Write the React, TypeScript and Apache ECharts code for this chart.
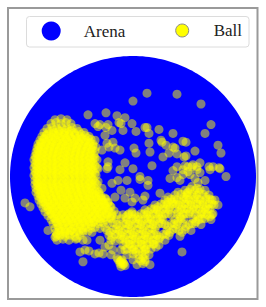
import React, { useEffect, useRef } from "react";
import * as echarts from "echarts";

// Arena radius (same units as positions)
const arenaRadius = 123;
const seriesNames = ["Arena", "Ball"];

// Ball positions: dense western cluster
const ballWestCluster: number[][] = [
  [-78,58],[-72,59],[-66,58],
  [-82,54],[-77,55],[-72,54],[-67,55],[-62,54],
  [-86,49],[-81,50],[-76,49],[-71,50],[-66,49],[-61,50],[-56,49],
  [-89,45],[-84,46],[-79,45],[-74,46],[-69,45],[-64,46],[-59,45],[-54,46],[-49,45],
  [-91,41],[-87,42],[-82,41],[-77,42],[-72,41],[-68,42],[-63,41],[-58,42],[-53,41],[-48,42],[-44,41],
  [-93,37],[-89,38],[-84,37],[-80,38],[-75,37],[-70,38],[-66,37],[-61,38],[-56,37],[-52,38],[-47,37],[-42,38],[-38,37],
  [-95,33],[-91,34],[-86,33],[-82,34],[-77,33],[-72,34],[-68,33],[-63,34],[-58,33],[-54,34],[-49,33],[-44,34],[-40,33],
  [-96,29],[-92,30],[-88,29],[-83,30],[-79,29],[-74,30],[-70,29],[-65,30],[-60,29],[-56,30],[-51,29],[-46,30],[-42,29],[-37,30],
  [-97,25],[-93,26],[-89,25],[-84,26],[-80,25],[-75,26],[-71,25],[-66,26],[-62,25],[-57,26],[-52,25],[-48,26],[-43,25],[-38,26],
  [-98,21],[-94,22],[-89,21],[-85,22],[-81,21],[-76,22],[-72,21],[-67,22],[-63,21],[-58,22],[-53,21],[-49,22],[-44,21],[-39,22],
  [-99,17],[-95,18],[-90,17],[-86,18],[-81,17],[-77,18],[-72,17],[-68,18],[-63,17],[-59,18],[-54,17],[-50,18],[-45,17],[-40,18],[-36,17],
  [-98,13],[-94,14],[-89,13],[-85,14],[-80,13],[-76,14],[-71,13],[-67,14],[-62,13],[-58,14],[-53,13],[-49,14],[-44,13],[-40,14],
  [-99,9],[-95,10],[-90,9],[-86,10],[-81,9],[-77,10],[-72,9],[-68,10],[-63,9],[-59,10],[-54,9],[-50,10],[-45,9],[-41,10],[-36,9],
  [-98,5],[-94,6],[-89,5],[-85,6],[-80,5],[-76,6],[-71,5],[-67,6],[-62,5],[-58,6],[-53,5],[-49,6],[-44,5],[-40,6],
  [-99,1],[-95,2],[-90,1],[-86,2],[-81,1],[-77,2],[-72,1],[-68,2],[-63,1],[-59,2],[-54,1],[-50,2],[-45,1],[-41,2],[-37,1],
  [-98,-4],[-94,-3],[-89,-4],[-85,-3],[-80,-4],[-76,-3],[-71,-4],[-67,-3],[-62,-4],[-58,-3],[-53,-4],[-49,-3],[-44,-4],[-40,-3],
  [-98,-8],[-95,-7],[-90,-8],[-86,-7],[-81,-8],[-77,-7],[-72,-8],[-68,-7],[-63,-8],[-59,-7],[-54,-8],[-50,-7],[-45,-8],[-41,-7],[-36,-8],
  [-97,-12],[-93,-11],[-89,-12],[-84,-11],[-80,-12],[-75,-11],[-71,-12],[-66,-11],[-62,-12],[-57,-11],[-53,-12],[-48,-11],[-44,-12],[-39,-11],
  [-97,-16],[-92,-15],[-88,-16],[-83,-15],[-79,-16],[-74,-15],[-70,-16],[-65,-15],[-61,-16],[-56,-15],[-52,-16],[-47,-15],[-43,-16],[-38,-15],[-34,-16],
  [-95,-20],[-91,-19],[-86,-20],[-82,-19],[-77,-20],[-73,-19],[-68,-20],[-64,-19],[-59,-20],[-55,-19],[-50,-20],[-46,-19],[-41,-20],[-37,-19],[-32,-20],
  [-94,-24],[-90,-23],[-85,-24],[-81,-23],[-76,-24],[-72,-23],[-67,-24],[-63,-23],[-58,-24],[-54,-23],[-49,-24],[-45,-23],[-40,-24],[-36,-23],[-31,-24],[-27,-23],
  [-92,-28],[-88,-27],[-83,-28],[-79,-27],[-74,-28],[-70,-27],[-65,-28],[-61,-27],[-56,-28],[-52,-27],[-47,-28],[-43,-27],[-38,-28],[-34,-27],[-29,-28],[-25,-27],
  [-90,-32],[-85,-31],[-81,-32],[-76,-31],[-72,-32],[-67,-31],[-63,-32],[-58,-31],[-54,-32],[-49,-31],[-45,-32],[-40,-31],[-36,-32],[-31,-31],[-27,-32],[-22,-31],
  [-88,-36],[-83,-35],[-79,-36],[-74,-35],[-70,-36],[-65,-35],[-61,-36],[-56,-35],[-52,-36],[-47,-35],[-43,-36],[-38,-35],[-34,-36],[-29,-35],[-24,-36],[-19,-35],
  [-85,-40],[-81,-39],[-76,-40],[-72,-39],[-67,-40],[-63,-39],[-58,-40],[-54,-39],[-49,-40],[-45,-39],[-40,-40],[-36,-39],[-31,-40],[-26,-39],[-21,-40],[-16,-39],
  [-82,-44],[-78,-43],[-73,-44],[-69,-43],[-64,-44],[-60,-43],[-55,-44],[-51,-43],[-46,-44],[-42,-43],[-37,-44],[-32,-43],[-27,-44],[-22,-43],[-17,-44],[-12,-43],
  [-80,-48],[-76,-47],[-71,-48],[-67,-47],[-62,-48],[-58,-47],[-53,-48],[-49,-47],[-44,-48],[-40,-47],[-35,-48],[-30,-47],[-25,-48],[-20,-47],
  [-78,-53],[-74,-52],[-69,-53],[-65,-52],[-60,-53],[-56,-52],[-51,-53],[-47,-52],[-42,-53],[-38,-52],[-33,-53],[-28,-52],
  [-77,-57],[-72,-56],[-68,-57],[-63,-56],[-59,-57],[-54,-56],[-50,-57],[-45,-56],[-41,-57],
  [-77,-61],[-73,-60],[-68,-61],[-63,-60],[-58,-61],[-53,-60],[-78,-62],
  [-76,-65],[-70,-64],[-64,-65],[-57,-64],[-50,-65],
];

// Ball positions: repeated visits in the core of the western cluster
const ballWestCore: number[][] = [
  [-80,47],[-74,47],[-68,47],[-62,47],
  [-86,43],[-80,43],[-75,43],[-69,43],[-64,43],[-58,43],[-52,43],
  [-89,39],[-84,39],[-78,39],[-73,39],[-67,39],[-62,39],[-56,39],[-51,39],[-45,39],
  [-92,35],[-87,35],[-81,35],[-76,35],[-70,35],[-65,35],[-59,35],[-54,35],[-48,35],[-43,35],
  [-94,31],[-89,31],[-83,31],[-78,31],[-72,31],[-67,31],[-61,31],[-56,31],[-50,31],[-45,31],[-40,31],
  [-95,27],[-90,27],[-85,27],[-79,27],[-74,27],[-68,27],[-63,27],[-57,27],[-52,27],[-46,27],[-41,27],
  [-96,23],[-91,23],[-86,23],[-80,23],[-75,23],[-69,23],[-64,23],[-58,23],[-53,23],[-47,23],[-42,23],
  [-97,19],[-92,19],[-87,19],[-81,19],[-76,19],[-70,19],[-65,19],[-59,19],[-54,19],[-48,19],[-43,19],[-38,19],
  [-96,15],[-91,15],[-86,15],[-80,15],[-75,15],[-69,15],[-64,15],[-58,15],[-53,15],[-47,15],[-42,15],
  [-97,11],[-92,11],[-87,11],[-81,11],[-76,11],[-70,11],[-65,11],[-59,11],[-54,11],[-48,11],[-43,11],[-38,11],
  [-96,7],[-91,7],[-86,7],[-80,7],[-75,7],[-69,7],[-64,7],[-58,7],[-53,7],[-47,7],[-42,7],
  [-97,3],[-92,3],[-87,3],[-81,3],[-76,3],[-70,3],[-65,3],[-59,3],[-54,3],[-48,3],[-43,3],[-38,3],
  [-96,-1],[-91,-1],[-86,-1],[-80,-1],[-75,-1],[-69,-1],[-64,-1],[-58,-1],[-53,-1],[-47,-1],[-42,-1],
  [-96,-6],[-92,-6],[-87,-6],[-81,-6],[-76,-6],[-70,-6],[-65,-6],[-59,-6],[-54,-6],[-48,-6],[-43,-6],[-38,-6],
  [-95,-10],[-91,-10],[-86,-10],[-80,-10],[-75,-10],[-69,-10],[-64,-10],[-58,-10],[-53,-10],[-47,-10],[-42,-10],
  [-95,-14],[-90,-14],[-85,-14],[-79,-14],[-74,-14],[-68,-14],[-63,-14],[-57,-14],[-52,-14],[-46,-14],[-41,-14],[-36,-14],
  [-93,-18],[-88,-18],[-83,-18],[-77,-18],[-72,-18],[-66,-18],[-61,-18],[-55,-18],[-50,-18],[-44,-18],[-39,-18],[-34,-18],
  [-92,-22],[-87,-22],[-81,-22],[-76,-22],[-70,-22],[-65,-22],[-59,-22],[-54,-22],[-48,-22],[-43,-22],[-37,-22],[-32,-22],[-28,-22],
  [-90,-26],[-85,-26],[-79,-26],[-74,-26],[-68,-26],[-63,-26],[-57,-26],[-52,-26],[-46,-26],[-41,-26],[-35,-26],[-30,-26],[-25,-26],
  [-87,-30],[-82,-30],[-77,-30],[-71,-30],[-66,-30],[-60,-30],[-55,-30],[-49,-30],[-44,-30],[-38,-30],[-33,-30],[-28,-30],[-23,-30],
  [-85,-34],[-80,-34],[-74,-34],[-69,-34],[-63,-34],[-58,-34],[-52,-34],[-47,-34],[-41,-34],[-36,-34],[-30,-34],[-25,-34],
  [-82,-38],[-77,-38],[-71,-38],[-66,-38],[-60,-38],[-55,-38],[-49,-38],[-44,-38],[-38,-38],[-33,-38],[-27,-38],[-21,-38],
  [-79,-42],[-74,-42],[-68,-42],[-63,-42],[-57,-42],[-52,-42],[-46,-42],[-41,-42],[-35,-42],[-29,-42],[-23,-42],
  [-77,-46],[-72,-46],[-66,-46],[-61,-46],[-55,-46],[-50,-46],[-44,-46],[-39,-46],[-33,-46],
  [-75,-50],[-70,-50],[-64,-50],[-59,-50],[-53,-50],[-48,-50],[-42,-50],
  [-74,-55],[-68,-55],[-62,-55],[-56,-55],[-50,-55],
  [-76,-59],[-70,-59],[-64,-59],
];

// Ball positions: southern band rising towards the east
const ballSouthBand: number[][] = [
  [52,-14],[57,-13],[62,-14],[67,-13],[72,-14],
  [42,-19],[48,-18],[54,-19],[59,-18],[64,-19],[70,-18],[76,-19],
  [32,-24],[38,-23],[44,-24],[50,-23],[56,-24],[61,-23],[67,-24],[73,-23],[79,-24],
  [22,-29],[28,-28],[34,-29],[40,-28],[46,-29],[52,-28],[58,-29],[64,-28],[70,-29],[76,-28],[81,-29],
  [12,-34],[18,-33],[24,-34],[30,-33],[36,-34],[42,-33],[48,-34],[54,-33],[60,-34],[66,-33],[72,-34],[77,-33],
  [-10,-39],[-4,-38],[2,-39],[8,-38],[14,-39],[20,-38],[26,-39],[32,-38],[38,-39],[44,-38],[50,-39],[56,-38],[62,-39],[68,-38],[74,-39],[80,-38],
  [-6,-44],[0,-43],[6,-44],[12,-43],[18,-44],[24,-43],[30,-44],[42,-44],[48,-43],[60,-43],[66,-44],[72,-43],[78,-44],
  [-16,-49],[-10,-48],[-4,-49],[2,-48],[8,-49],[14,-48],[20,-49],[26,-48],[32,-49],[38,-48],[44,-49],[50,-48],[56,-49],[62,-48],[68,-49],
  [-26,-55],[-20,-54],[-14,-55],[-8,-54],[-2,-55],[4,-54],[10,-55],[16,-54],[22,-55],[34,-55],[40,-54],[46,-55],[52,-54],[58,-55],
  [-24,-60],[-18,-59],[-12,-60],[-6,-59],[0,-60],[6,-59],[12,-60],[18,-59],[24,-60],[30,-59],[36,-60],
  [-22,-65],[-10,-64],[-4,-65],[2,-64],[8,-65],[14,-64],[20,-65],[26,-64],[32,-65],
  [-10,-70],[-4,-69],[2,-70],[8,-69],[14,-70],[20,-69],[26,-70],
  [-12,-75],[-6,-74],[0,-75],[6,-74],[12,-75],[18,-74],
  [-6,-80],[0,-79],[6,-80],[12,-79],[16,-80],
  [0,-85],[6,-84],[12,-85],[10,-83],[8,-86],[12,-87],
  [4,-90],[10,-89],
  [-15,-85],[-11,-85],[-13,-89],[-9,-89],[-12,-92],[-8,-91],[-13,-87],[-10,-88],
  [-48,-75],[-44,-76],[-38,-79],[-34,-78],[-30,-79],
  [51,-21],[62,-21],[73,-21],
  [35,-26],[47,-26],[58,-26],[70,-26],
  [25,-31],[37,-31],[49,-31],[61,-31],[73,-31],
  [15,-36],[27,-36],[45,-36],[57,-36],[69,-36],
  [-7,-41],[5,-41],[17,-41],[29,-41],[47,-41],[65,-41],[77,-41],
  [-3,-46],[9,-46],[21,-46],[45,-46],[63,-46],
  [-13,-51],[-1,-51],[11,-51],[23,-51],[35,-51],[53,-51],
  [-23,-57],[-11,-57],[1,-57],[13,-57],[37,-57],[49,-57],
  [-21,-62],[-9,-62],[3,-62],[15,-62],[27,-62],
  [-7,-67],[5,-67],[17,-67],
  [-1,-72],[11,-72],[23,-72],
  [3,-77],[9,-77],
  [55,-16],[66,-16],
  [41,-23],[53,-23],[65,-23],[77,-23],
  [31,-28],[43,-28],[55,-28],[67,-28],[79,-28],
  [21,-33],[33,-33],[51,-33],[63,-33],[75,-33],
  [-1,-38],[11,-38],[23,-38],[35,-38],[53,-38],[71,-38],
  [3,-43],[15,-43],[27,-43],[51,-43],[69,-43],
  [-7,-48],[5,-48],[17,-48],[29,-48],[41,-48],[59,-48],
  [-17,-53],[-5,-53],[7,-53],[19,-53],[43,-53],
  [-15,-59],[-3,-59],[9,-59],[21,-59],[33,-59],
  [-13,-64],[-1,-64],[11,-64],[23,-64],
  [-3,-69],[9,-69],[21,-69],
  [1,-74],[13,-74],
  [-12,-86],[-10,-90],
  [-24,-70],[-20,-75],[-28,-72],[-22,-80],[-18,-66],
];

// Ball positions: scattered samples across the arena
const ballScattered: number[][] = [
  [14,85],[44,84],[0,77],[68,74],[-1,54],[3,46],[16,44],[26,48],[40,44],[78,53],[72,44],
  [16,34],[33,32],[40,30],[1,29],[3,24],[17,25],[42,29],[36,24],[44,23],[30,20],[62,26],[85,32],[88,24],
  [50,36],[53,35],[28,37],[29,35],[12,50],[14,50],[51,20],[53,21],
  [37,-2],[44,-1],[47,-4],[40,6],[50,7],[59,10],[64,7],[67,4],[57,2],[77,7],[87,8],[93,0],
  [65,-6],[59,-10],[64,-12],[52,11],[55,10],[60,12],[67,14],[64,10],[76,10],[80,10],[86,9],
  [44,10],[19,11],[55,5],[62,-2],[72,-4],[50,2],
  [-45,63],[-27,65],[-16,62],[-8,60],[-14,55],[-12,54],[-10,47],[-25,53],[-33,53],[-35,51],[-38,54],
  [-21,47],[-28,42],[-27,50],[-26,34],[-20,35],[-24,30],[-18,29],[-13,27],[-8,14],[-25,15],[-25,10],[0,8],[-31,27],
  [7,-3],[15,-9],[12,-20],[2,-22],[10,-24],[27,-17],[35,-21],[39,-26],[45,-16],[54,-17],
  [85,-29],[82,-24],[79,-39],[47,-61],[49,-77],[17,-90],
  [-26,8],[-15,-4],[-6,-4],[-21,-7],[-12,-14],[-3,-16],[-18,-21],[-8,-22],[-1,-26],
  [-35,8],[-35,-5],[-31,-12],[-13,7],[7,0],[15,-4],
  [-108,-27],[-103,-31],[-85,-55],[-53,-77],[-50,-87],[-33,-65],[-16,-83],[-8,-75],
  [-56,-63],[-46,-65],[-5,-39],[-1,-36],
];

const FONT = "'Liberation Serif', 'Times New Roman', serif";

export default function App() {
  const ref = useRef<HTMLDivElement>(null);

  useEffect(() => {
    if (!ref.current) return;
    const chart = echarts.init(ref.current, undefined, { renderer: "svg" });
    const ballData = [...ballWestCluster, ...ballWestCore, ...ballSouthBand, ...ballScattered];

    chart.setOption({
      animation: false,
      backgroundColor: "#ffffff",
      grid: { left: 10, top: 56, width: 246, height: 241, containLabel: false },
      xAxis: { type: "value", min: -arenaRadius, max: arenaRadius, show: false },
      yAxis: { type: "value", min: -arenaRadius, max: arenaRadius, show: false },
      graphic: [
        {
          type: "rect",
          z: 0,
          shape: { x: 8, y: 8, width: 249.5, height: 291 },
          style: { fill: "none", stroke: "#9a9a9a", lineWidth: 2 },
          silent: true,
        },
        {
          type: "rect",
          z: 0,
          shape: { x: 26.5, y: 16.5, width: 222.5, height: 30.5, r: 3 },
          style: { fill: "#ffffff", stroke: "#dcdcdc", lineWidth: 1 },
          silent: true,
        },
      ],
      legend: [
        {
          data: [{ name: seriesNames[0], icon: "circle", itemStyle: { color: "#0000ff", opacity: 1 } }],
          left: 41.7,
          top: 21.5,
          padding: 0,
          itemWidth: 19,
          itemHeight: 19,
          selectedMode: false,
          textStyle: { fontFamily: FONT, fontSize: 17, color: "#222", padding: [0, 0, 0, 18] },
        },
        {
          data: [
            {
              name: seriesNames[1],
              icon: "circle",
              itemStyle: { color: "#ffff00", borderColor: "#8a8a8a", borderWidth: 1, opacity: 1 },
            },
          ],
          left: 175.2,
          top: 22,
          padding: 0,
          itemWidth: 13,
          itemHeight: 13,
          selectedMode: false,
          textStyle: { fontFamily: FONT, fontSize: 17, color: "#222", padding: [0, 0, 0, 20] },
        },
      ],
      series: [
        {
          name: seriesNames[0],
          type: "custom",
          silent: true,
          data: [[0, 0]],
          renderItem: (_params: any, api: any) => {
            const pts: number[][] = [];
            const n = 240;
            for (let i = 0; i < n; i++) {
              const t = (i / n) * Math.PI * 2;
              pts.push(api.coord([arenaRadius * Math.cos(t), arenaRadius * Math.sin(t)]));
            }
            return { type: "polygon", shape: { points: pts }, style: { fill: "#0000ff" } };
          },
          itemStyle: { color: "#0000ff" },
        },
        {
          name: seriesNames[1],
          type: "scatter",
          silent: true,
          symbol: "circle",
          symbolSize: 9,
          data: ballData,
          itemStyle: { color: "#ffff00", opacity: 0.5 },
          emphasis: { disabled: true },
        },
      ],
    });
    return () => chart.dispose();
  }, []);

  return (
    <div
      ref={ref}
      style={{ position: "absolute", left: 0, top: 0, width: 266, height: 307 }}
    />
  );
}
